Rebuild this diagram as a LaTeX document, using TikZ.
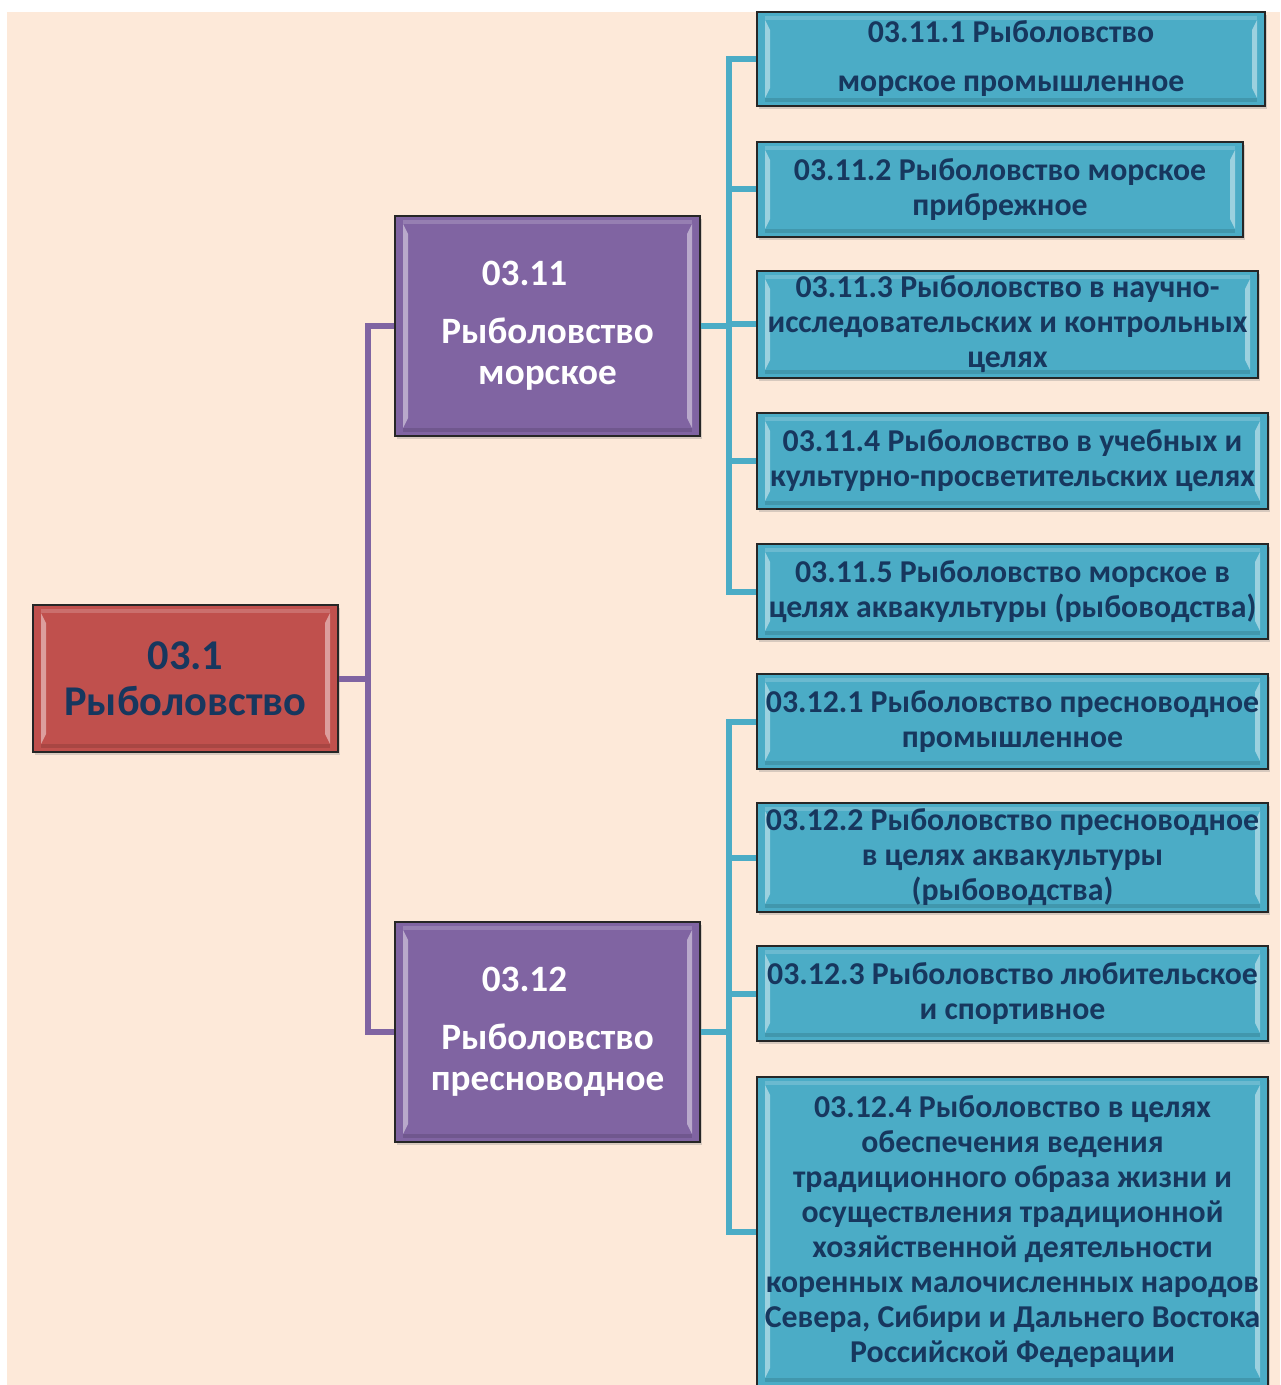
\documentclass[tikz,border=0pt]{standalone}
\usepackage{fontspec}
\setmainfont{Carlito}
\usetikzlibrary{shadows}
\definecolor{peach}{HTML}{FDE9D9}
\definecolor{boxred}{HTML}{C0504D}
\definecolor{boxpurple}{HTML}{8064A2}
\definecolor{boxblue}{HTML}{4BACC6}
\definecolor{navy}{HTML}{17375E}
\tikzset{
  bevel/.style={path picture={
    \fill[white,opacity=.45] ([xshift=4pt,yshift=-4pt]path picture bounding box.north west) -- ([xshift=6.5pt,yshift=-9pt]path picture bounding box.north west) -- ([xshift=6.5pt,yshift=9pt]path picture bounding box.south west) -- ([xshift=4pt,yshift=4pt]path picture bounding box.south west) -- cycle;
    \fill[white,opacity=.45] ([xshift=-4pt,yshift=-4pt]path picture bounding box.north east) -- ([xshift=-6.5pt,yshift=-9pt]path picture bounding box.north east) -- ([xshift=-6.5pt,yshift=9pt]path picture bounding box.south east) -- ([xshift=-4pt,yshift=4pt]path picture bounding box.south east) -- cycle;
    \fill[white,opacity=.18] ([xshift=4pt,yshift=-2pt]path picture bounding box.north west) rectangle ([xshift=-4pt,yshift=-4pt]path picture bounding box.north east);
    \fill[black,opacity=.12] ([xshift=4pt,yshift=2pt]path picture bounding box.south west) rectangle ([xshift=-4pt,yshift=4pt]path picture bounding box.south east);
  }},
  box/.style={draw=black!85,line width=.8pt,inner sep=0pt,align=center,bevel,
    drop shadow={shadow xshift=1.2pt,shadow yshift=-1.5pt,opacity=.3}},
  redbox/.style={box,fill=boxred,text=navy,minimum width=152.5pt,minimum height=73.5pt,
    font=\bfseries\fontsize{21.2}{23}\selectfont},
  purplebox/.style={box,fill=boxpurple,text=white,minimum width=152.5pt,minimum height=110pt,
    font=\bfseries\fontsize{18.6}{20.5}\selectfont},
  bluebox/.style={box,fill=boxblue,text=navy,minimum width=255.5pt,minimum height=47.5pt,
    font=\bfseries\fontsize{15.9}{17.5}\selectfont},
  bluelink/.style={draw=boxblue,line width=3pt},
  purplelink/.style={draw=boxpurple,line width=3pt}
}
\begin{document}
\begin{tikzpicture}[x=0.5pt,y=-0.5pt]
\useasboundingbox (0,0) rectangle (1280,1385);
\fill[peach] (7,12) rectangle (1280,1385);
\node[redbox](NR31) at (185.5,678.5){03.1\\Рыболовство};
\node[purplebox](NR311) at (547.5,326){03.11\hspace*{23pt}\\[8.5pt]Рыболовство\\морское};
\node[purplebox](NR312) at (547.5,1032){03.12\hspace*{23pt}\\[8.5pt]Рыболовство\\пресноводное};
\node[bluebox,minimum width=254pt,minimum height=47pt](NR3111) at (1011,59){03.11.1 Рыболовство\\[7pt]морское промышленное};
\node[bluebox,minimum width=243pt](NR3112) at (1000,189.5){03.11.2 Рыболовство морское\\прибрежное};
\node[bluebox,minimum width=250.5pt,minimum height=53.5pt](NR3113) at (1007.5,324.5){03.11.3 Рыболовство в научно-\\исследовательских и контрольных\\целях};
\node[bluebox,minimum height=48pt](NR3114) at (1012.5,461){03.11.4 Рыболовство в учебных и\\культурно-просветительских целях};
\node[bluebox](NR3115) at (1012.5,591.5){03.11.5 Рыболовство морское в\\целях аквакультуры (рыбоводства)};
\node[bluebox](NR3121) at (1012.5,721.5){03.12.1 Рыболовство пресноводное\\промышленное};
\node[bluebox,minimum height=54.5pt](NR3122) at (1012.5,857.5){03.12.2 Рыболовство пресноводное\\в целях аквакультуры\\(рыбоводства)};
\node[bluebox](NR3123) at (1012.5,993.5){03.12.3 Рыболовство любительское\\и спортивное};
\node[bluebox,minimum height=154.5pt](NR3124) at (1012.5,1231.5){03.12.4 Рыболовство в целях\\обеспечения ведения\\традиционного образа жизни и\\осуществления традиционной\\хозяйственной деятельности\\коренных малочисленных народов\\Севера, Сибири и Дальнего Востока\\Российской Федерации};
\draw[purplelink] (NR31.east) -- ++(14.5pt,0) coordinate(NJ31);
\draw[purplelink] (NJ31) |- (NR311.west);
\draw[purplelink] (NJ31) |- (NR312.west);
\draw[bluelink] (NR311.east) -- ++(14pt,0) coordinate(NJ311);
\draw[bluelink] (NJ311) |- (NR3111.west);
\draw[bluelink] (NJ311) |- (NR3112.west);
\draw[bluelink] (NJ311) |- (NR3113.west);
\draw[bluelink] (NJ311) |- (NR3114.west);
\draw[bluelink] (NJ311) |- (NR3115.west);
\draw[bluelink] (NR312.east) -- ++(14pt,0) coordinate(NJ312);
\draw[bluelink] (NJ312) |- (NR3121.west);
\draw[bluelink] (NJ312) |- (NR3122.west);
\draw[bluelink] (NJ312) |- (NR3123.west);
\draw[bluelink] (NJ312) |- (NR3124.west);
\end{tikzpicture}
\end{document}
